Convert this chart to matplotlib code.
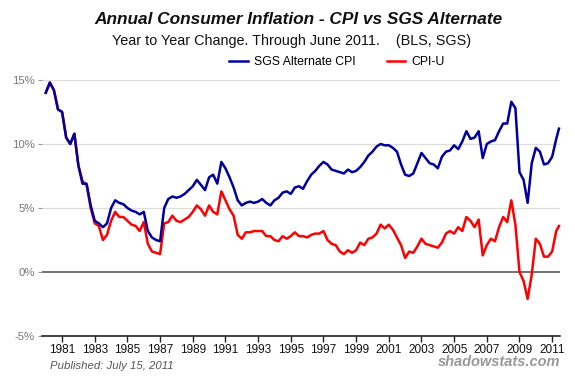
import numpy as np
import matplotlib
matplotlib.use('Agg')
import matplotlib.pyplot as plt

plt.rcParams['font.family'] = ['Liberation Sans', 'DejaVu Sans']

# quarterly points (Jan, Apr, Jul, Oct), last one is June 2011
years = list(range(1980, 2012))
dates = [y + q / 12 for y in years for q in (0, 3, 6, 9)]
dates = [d for d in dates if d < 2011.3] + [2011 + 5 / 12]

sgs_alt = [
    14.0, 14.8, 14.2, 12.7,   # 1980
    12.5, 10.5, 10.0, 10.8,   # 1981
    8.3, 6.9, 6.9, 5.2,       # 1982
    4.0, 3.8, 3.5, 3.8,       # 1983
    5.0, 5.6, 5.4, 5.3,       # 1984
    5.0, 4.8, 4.7, 4.5,       # 1985
    4.7, 3.2, 2.7, 2.5,       # 1986
    2.4, 5.0, 5.7, 5.9,       # 1987
    5.8, 5.9, 6.1, 6.4,       # 1988
    6.7, 7.2, 6.8, 6.4,       # 1989
    7.4, 7.6, 6.9, 8.6,       # 1990
    8.1, 7.4, 6.6, 5.6,       # 1991
    5.2, 5.4, 5.5, 5.4,       # 1992
    5.5, 5.7, 5.4, 5.2,       # 1993
    5.6, 5.8, 6.2, 6.3,       # 1994
    6.1, 6.6, 6.7, 6.5,       # 1995
    7.1, 7.6, 7.9, 8.3,       # 1996
    8.6, 8.4, 8.0, 7.9,       # 1997
    7.8, 7.7, 8.0, 7.8,       # 1998
    7.9, 8.2, 8.6, 9.1,       # 1999
    9.4, 9.8, 10.0, 9.9,      # 2000
    9.9, 9.7, 9.4, 8.4,       # 2001
    7.6, 7.5, 7.7, 8.5,       # 2002
    9.3, 8.9, 8.5, 8.4,       # 2003
    8.1, 9.0, 9.4, 9.5,       # 2004
    9.9, 9.6, 10.2, 11.0,     # 2005
    10.4, 10.5, 11.0, 8.9,    # 2006
    10.0, 10.2, 10.3, 11.0,   # 2007
    11.6, 11.6, 13.3, 12.8,   # 2008
    7.8, 7.2, 5.4, 8.5,       # 2009
    9.7, 9.4, 8.4, 8.5,       # 2010
    9.0, 10.4, 11.2,          # 2011
]

cpi_u = [
    14.0, 14.8, 14.2, 12.7,   # 1980
    12.5, 10.5, 10.0, 10.8,   # 1981
    8.3, 7.1, 6.8, 5.0,       # 1982
    3.8, 3.6, 2.5, 2.9,       # 1983
    4.0, 4.7, 4.3, 4.3,       # 1984
    4.0, 3.7, 3.6, 3.2,       # 1985
    3.9, 2.2, 1.6, 1.5,       # 1986
    1.4, 3.8, 3.9, 4.4,       # 1987
    4.0, 3.9, 4.1, 4.3,       # 1988
    4.7, 5.2, 4.9, 4.4,       # 1989
    5.2, 4.7, 4.5, 6.3,       # 1990
    5.6, 4.9, 4.4, 2.9,       # 1991
    2.6, 3.1, 3.1, 3.2,       # 1992
    3.2, 3.2, 2.8, 2.8,       # 1993
    2.5, 2.4, 2.8, 2.6,       # 1994
    2.8, 3.1, 2.8, 2.8,       # 1995
    2.7, 2.9, 3.0, 3.0,       # 1996
    3.2, 2.5, 2.2, 2.1,       # 1997
    1.6, 1.4, 1.7, 1.5,       # 1998
    1.7, 2.3, 2.1, 2.6,       # 1999
    2.7, 3.0, 3.7, 3.4,       # 2000
    3.7, 3.3, 2.7, 2.1,       # 2001
    1.1, 1.6, 1.5, 2.0,       # 2002
    2.6, 2.2, 2.1, 2.0,       # 2003
    1.9, 2.3, 3.0, 3.2,       # 2004
    3.0, 3.5, 3.2, 4.3,       # 2005
    4.0, 3.5, 4.1, 1.3,       # 2006
    2.1, 2.6, 2.4, 3.5,       # 2007
    4.3, 3.9, 5.6, 3.7,       # 2008
    0.0, -0.7, -2.1, -0.2,    # 2009
    2.6, 2.2, 1.2, 1.2,       # 2010
    1.6, 3.2, 3.6,            # 2011
]

xtick_years = list(range(1981, 2012, 2))
ytick_vals = [-5, 0, 5, 10, 15]

fig = plt.figure(figsize=(5.75, 3.8), dpi=100)
ax = fig.add_axes([42 / 575, 1 - 336 / 380, (560 - 42) / 575, 256 / 380])

for v in (5, 10, 15):
    ax.axhline(v, color='#dddddd', lw=0.9, zorder=1)
ax.axhline(0, color='#666666', lw=1.3, zorder=2)

ax.plot(dates, cpi_u, color='#ff0000', lw=1.8, zorder=3, clip_on=False)
ax.plot(dates, sgs_alt, color='#0000a0', lw=1.8, zorder=4, clip_on=False)

ax.set_xlim(1979.77, 2011.48)
ax.set_ylim(-5, 15)
ax.set_xticks(xtick_years)
ax.set_xticklabels([str(y) for y in xtick_years], fontsize=8.5, color='#111111')
ax.set_yticks(ytick_vals)
ax.set_yticklabels(['%d%%' % v for v in ytick_vals], fontsize=8.2, color='#777777')
ax.tick_params(axis='x', length=4, width=1, color='#222222', pad=2)
ax.tick_params(axis='y', length=3, width=0.8, color='#999999', pad=2)

for s in ('top', 'right', 'left'):
    ax.spines[s].set_visible(False)
ax.spines['bottom'].set_color('#111111')
ax.spines['bottom'].set_linewidth(1.1)

fig.text(298 / 575, 1 - 20 / 380, 'Annual Consumer Inflation - CPI vs SGS Alternate',
         ha='center', va='center', fontsize=12.4, fontweight='bold', style='italic', color='#111111')
fig.text(292 / 575, 1 - 41 / 380, 'Year to Year Change. Through June 2011.    (BLS, SGS)',
         ha='center', va='center', fontsize=10.4, color='#111111')

h_b, = ax.plot([], [], color='#0000a0', lw=1.8)
h_r, = ax.plot([], [], color='#ff0000', lw=1.8)
fig.legend([h_b, h_r], ['SGS Alternate CPI', 'CPI-U'], loc='center',
           bbox_to_anchor=(337 / 575, 1 - 62 / 380), ncol=2, frameon=False,
           fontsize=8.8, handlelength=1.5, handletextpad=0.5, columnspacing=2.6)

fig.text(50 / 575, 1 - 366 / 380, 'Published: July 15, 2011', ha='left', va='center',
         fontsize=8.2, style='italic', color='#555555')
fig.text(560 / 575, 1 - 362 / 380, 'shadowstats.com', ha='right', va='center',
         fontsize=10.5, fontweight='bold', style='italic', color='#999999')

fig.savefig('out.png', dpi=100)
